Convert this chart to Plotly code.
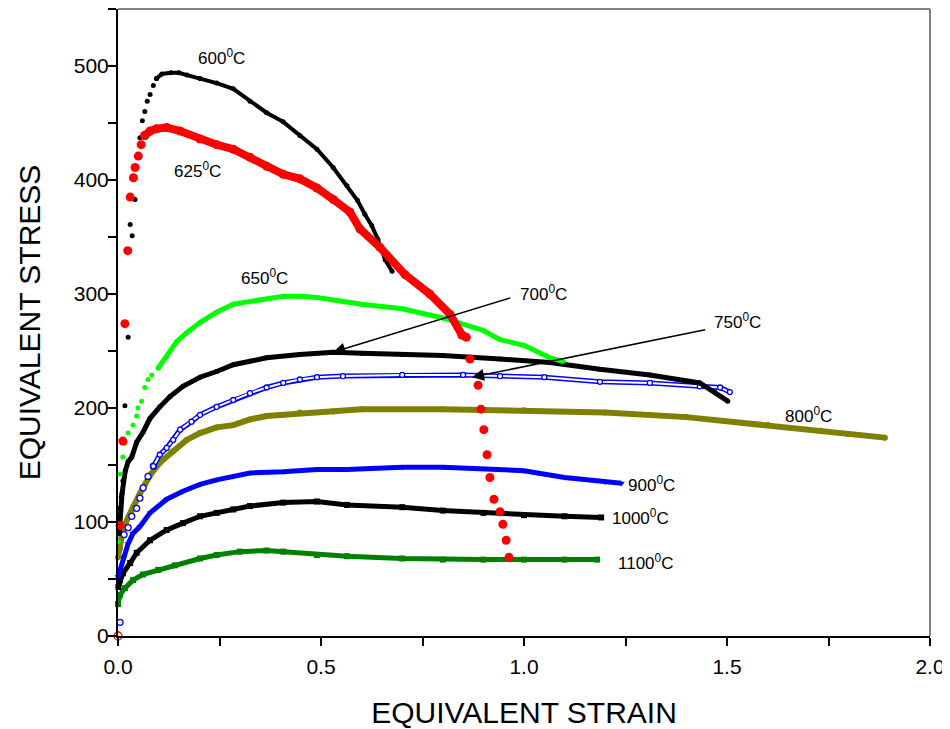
import plotly.graph_objects as go

# ---- data (strain, stress) ----
s600_rise_x = [0.0, 0.004, 0.008, 0.012, 0.017, 0.025, 0.030, 0.035, 0.042, 0.046, 0.054, 0.060, 0.066, 0.072, 0.079, 0.087, 0.095]
s600_rise_y = [0, 112, 122, 136, 202, 262, 361, 351, 383, 411, 437, 452, 460, 469, 475, 483, 489]
s600_x = [0.095, 0.108, 0.13, 0.15, 0.17, 0.202, 0.243, 0.284, 0.325, 0.366, 0.407, 0.448, 0.49, 0.53, 0.564, 0.59, 0.608, 0.625, 0.64, 0.658, 0.675]
s600_y = [489, 493, 494, 494, 492, 489, 485, 480, 469, 459, 451, 439, 427, 411, 395, 382, 370, 360, 348, 330, 320]

s625_rise_x = [0.005, 0.012, 0.017, 0.024, 0.030, 0.038, 0.042, 0.05, 0.057, 0.066]
s625_rise_y = [97, 171, 274, 338, 385, 402, 411, 421, 431, 439]
s625_x = [0.066, 0.079, 0.095, 0.12, 0.153, 0.202, 0.243, 0.284, 0.325, 0.366, 0.407, 0.448, 0.49, 0.53, 0.571, 0.596, 0.645, 0.707, 0.768, 0.818, 0.847, 0.858]
s625_y = [439, 443, 445, 446, 443, 436, 431, 427, 420, 412, 405, 401, 393, 383, 372, 357, 341, 317, 300, 282, 264, 262]
s625_fall_x = [0.867, 0.887, 0.894, 0.901, 0.909, 0.916, 0.926, 0.941, 0.948, 0.956, 0.963]
s625_fall_y = [243, 220, 199, 181, 159, 139, 120, 109, 98, 84, 69]

s650_rise_x = [0.001, 0.005, 0.012, 0.017, 0.025, 0.037, 0.046, 0.049, 0.058, 0.066, 0.074, 0.083, 0.099]
s650_rise_y = [83, 142, 157, 169, 178, 185, 193, 200, 206, 218, 225, 229, 235]
s650_x = [0.099, 0.12, 0.144, 0.169, 0.202, 0.243, 0.284, 0.30, 0.35, 0.407, 0.45, 0.49, 0.564, 0.6, 0.7, 0.8, 0.9, 0.941, 1.0, 1.064, 1.096]
s650_y = [235, 245, 258, 266, 275, 284, 291, 292, 295, 298, 298, 297, 293, 291, 287, 279, 268, 260, 255, 244, 241]

s700_x = [0.003, 0.010, 0.018, 0.025, 0.034, 0.046, 0.062, 0.079, 0.103, 0.128, 0.16, 0.202, 0.243, 0.284, 0.325, 0.366, 0.448, 0.53, 0.6, 0.7, 0.8, 0.941, 1.064, 1.187, 1.31, 1.433, 1.47, 1.502]
s700_y = [90, 125, 145, 153, 157, 170, 179, 191, 201, 210, 219, 227, 232, 238, 241, 244, 247, 249, 248, 247, 246, 243, 240, 234, 229, 222, 214, 206]

s750_rise_x = [0.0, 0.005, 0.015, 0.025, 0.034, 0.046, 0.054, 0.062, 0.074, 0.087]
s750_rise_y = [0, 12, 89, 95, 105, 112, 121, 130, 140, 149]
s750_x = [0.087, 0.103, 0.12, 0.136, 0.153, 0.181, 0.202, 0.243, 0.284, 0.325, 0.366, 0.407, 0.448, 0.49, 0.554, 0.7, 0.85, 0.941, 1.05, 1.187, 1.31, 1.433, 1.483, 1.507]
s750_y = [149, 159, 165, 172, 181, 188, 194, 201, 207, 213, 218, 222, 225, 227, 228, 229, 229, 228, 227, 223, 222, 219, 218, 214]

s800_x = [0.0, 0.005, 0.012, 0.025, 0.037, 0.054, 0.079, 0.103, 0.136, 0.169, 0.202, 0.243, 0.284, 0.325, 0.366, 0.407, 0.448, 0.53, 0.6, 0.8, 1.0, 1.2, 1.4, 1.6, 1.73, 1.8, 1.889]
s800_y = [69, 77, 93, 104, 113, 125, 141, 152, 162, 172, 178, 183, 185, 190, 193, 194, 196, 197, 199, 199, 198, 196, 192, 185, 180, 177, 174]

s900_x = [0.0, 0.005, 0.012, 0.025, 0.037, 0.054, 0.079, 0.12, 0.16, 0.202, 0.243, 0.284, 0.325, 0.407, 0.49, 0.564, 0.7, 0.8, 0.9, 1.0, 1.1, 1.2, 1.24]
s900_y = [52, 58, 69, 81, 90, 96, 108, 120, 127, 133, 137, 140, 143, 144, 146, 146, 148, 148, 147, 145, 139, 135, 134]

s1000_x = [0.001, 0.005, 0.012, 0.03, 0.046, 0.079, 0.12, 0.16, 0.202, 0.243, 0.284, 0.325, 0.407, 0.49, 0.564, 0.7, 0.8, 0.9, 1.0, 1.1, 1.19]
s1000_y = [43, 49, 55, 64, 73, 84, 93, 99, 105, 108, 111, 114, 117, 118, 115, 113, 110, 108, 106, 105, 104]

s1100_x = [0.0, 0.005, 0.017, 0.037, 0.062, 0.099, 0.14, 0.202, 0.243, 0.30, 0.366, 0.407, 0.49, 0.564, 0.7, 0.8, 0.9, 1.0, 1.1, 1.18]
s1100_y = [28, 36, 42, 49, 54, 58, 62, 68, 71, 74, 75, 74, 71, 70, 68, 67, 67, 67, 67, 67]

# labels: (text, strain, stress)
labels = [
    ("600<sup>0</sup>C", 0.256, 508),
    ("625<sup>0</sup>C", 0.195, 409),
    ("650<sup>0</sup>C", 0.362, 315),
    ("700<sup>0</sup>C", 1.047, 301),
    ("750<sup>0</sup>C", 1.525, 276),
    ("800<sup>0</sup>C", 1.700, 194),
    ("900<sup>0</sup>C", 1.315, 133),
    ("1000<sup>0</sup>C", 1.286, 104),
    ("1100<sup>0</sup>C", 1.300, 65),
]
# arrows: (tail strain, tail stress, head strain, head stress)
arrows = [
    (0.970, 297, 0.53, 249),
    (1.450, 269, 0.872, 227),
]

FONT = "Arial, 'Liberation Sans', sans-serif"
fig = go.Figure()

def dots(x, y, color, size, symbol="circle", open_=False):
    m = dict(color=color, size=size, symbol=symbol)
    if open_:
        m = dict(color="white", size=size, symbol="circle", line=dict(color=color, width=1.3))
    fig.add_trace(go.Scatter(x=x, y=y, mode="markers", marker=m, showlegend=False,
                             hoverinfo="skip", cliponaxis=False))

def band(x, y, color, width, msize, symbol="circle"):
    fig.add_trace(go.Scatter(x=x, y=y, mode="lines+markers",
                             line=dict(color=color, width=width),
                             marker=dict(color=color, size=msize, symbol=symbol),
                             showlegend=False, hoverinfo="skip", cliponaxis=False))

# 1100, 1000, 900, 800
band(s1100_x, s1100_y, "#008000", 5, 6, "square")
band(s1000_x, s1000_y, "#000000", 5, 6, "square")
band(s900_x, s900_y, "#0000FF", 5, 6, "triangle-down")
band(s800_x, s800_y, "#808000", 6, 6)
# 750 open-circle band
dots(s750_rise_x, s750_rise_y, "#0000FF", 6, open_=True)
fig.add_trace(go.Scatter(x=s750_x, y=s750_y, mode="lines", line=dict(color="#0000FF", width=5),
                         showlegend=False, hoverinfo="skip"))
fig.add_trace(go.Scatter(x=s750_x, y=s750_y, mode="lines+markers", line=dict(color="white", width=2),
                         marker=dict(color="white", size=5, symbol="circle",
                                     line=dict(color="#0000FF", width=1.3)),
                         showlegend=False, hoverinfo="skip"))
# 700
band(s700_x, s700_y, "#000000", 5, 5)
# 650
dots(s650_rise_x, s650_rise_y, "#00FF00", 5)
band(s650_x, s650_y, "#00FF00", 5, 5)
# 600
dots(s600_rise_x, s600_rise_y, "#000000", 5)
band(s600_x, s600_y, "#000000", 4, 5)
# 625
dots(s625_rise_x, s625_rise_y, "#FF0000", 9)
band(s625_x, s625_y, "#FF0000", 8, 9)
dots(s625_fall_x, s625_fall_y, "#FF0000", 9)
dots([0.0], [0.0], "#FF0000", 8, open_=True)

for t, x, y in labels:
    fig.add_annotation(x=x, y=y, text=t, showarrow=False, xref="x", yref="y",
                       font=dict(family=FONT, size=17, color="black"))
for tx, ty, hx, hy in arrows:
    fig.add_annotation(x=hx, y=hy, ax=tx, ay=ty, xref="x", yref="y", axref="x", ayref="y",
                       text="", showarrow=True, arrowhead=2, arrowsize=1.6, arrowwidth=1.5,
                       arrowcolor="black")

# grey top/right frame
fig.add_shape(type="line", xref="paper", yref="paper", x0=0, x1=1, y0=1, y1=1,
              line=dict(color="#808080", width=2))
fig.add_shape(type="line", xref="paper", yref="paper", x0=1, x1=1, y0=0, y1=1,
              line=dict(color="#808080", width=2))

axis_common = dict(showgrid=False, zeroline=False, showline=True, linecolor="black", linewidth=2,
                   ticks="outside", ticklen=8, tickwidth=2, tickcolor="black", automargin=False,
                   tickfont=dict(family=FONT, size=21, color="black"))
fig.update_xaxes(range=[0, 2.0], dtick=0.5, tick0=0, tickformat=".1f", ticklabelstandoff=3,
                 minor=dict(ticks="outside", dtick=0.25, ticklen=8, tickwidth=2, tickcolor="black"),
                 title=dict(text="EQUIVALENT STRAIN", font=dict(family=FONT, size=30, color="black"), standoff=26),
                 **axis_common)
fig.update_yaxes(range=[0, 550], dtick=100, tick0=0, ticklabelstandoff=-5,
                 minor=dict(ticks="outside", dtick=50, ticklen=8, tickwidth=2, tickcolor="black"),
                 title=dict(text="EQUIVALENT STRESS", font=dict(family=FONT, size=30, color="black"), standoff=24),
                 **axis_common)
# page body has an 8px default margin, so the figure is 942x721 to fit the 950x729 window
fig.update_layout(width=942, height=721, margin=dict(l=110, r=20, t=1, b=93),
                  plot_bgcolor="white", paper_bgcolor="white")
fig.write_html("out.html")
